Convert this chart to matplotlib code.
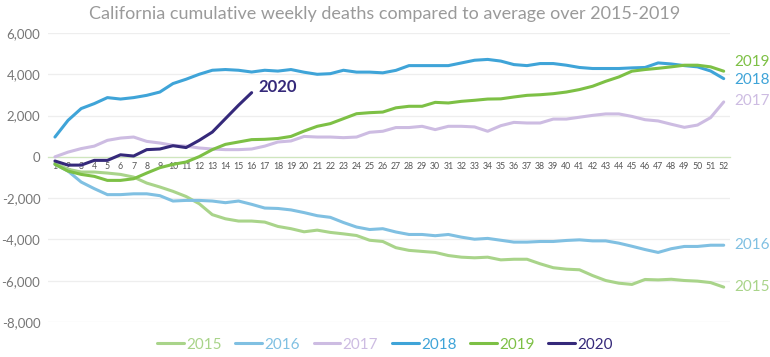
import matplotlib
matplotlib.use("Agg")
import matplotlib.pyplot as plt
import numpy as np

weeks = list(range(1, 53))

d2015 = [-300, -600, -735, -735, -785, -850, -980, -1270, -1460, -1670, -1920, -2270, -2800,
         -3000, -3110, -3110, -3160, -3370, -3480, -3630, -3550, -3660, -3730, -3810, -4040,
         -4100, -4400, -4530, -4580, -4630, -4780, -4860, -4890, -4860, -4990, -4960, -4960,
         -5180, -5370, -5440, -5470, -5750, -5990, -6120, -6180, -5940, -5960, -5930, -5990,
         -6020, -6090, -6310]
d2016 = [-360, -690, -1220, -1540, -1830, -1830, -1790, -1790, -1880, -2140, -2110, -2110,
         -2140, -2220, -2140, -2300, -2480, -2500, -2570, -2700, -2850, -2930, -3180, -3400,
         -3520, -3480, -3640, -3760, -3760, -3820, -3760, -3890, -3990, -3950, -4040, -4130,
         -4130, -4100, -4100, -4050, -4020, -4070, -4070, -4180, -4330, -4490, -4630, -4450,
         -4340, -4340, -4280, -4280]
d2017 = [0, 230, 400, 520, 800, 910, 960, 750, 670, 560, 520, 430, 380, 350, 350, 380, 520,
         720, 770, 990, 960, 960, 930, 960, 1190, 1240, 1420, 1420, 1480, 1320, 1480, 1480,
         1450, 1240, 1510, 1670, 1640, 1640, 1830, 1830, 1920, 2010, 2080, 2080, 1960, 1800,
         1740, 1580, 1430, 1540, 1900, 2660]
d2018 = [960, 1770, 2340, 2580, 2870, 2800, 2870, 2980, 3140, 3550, 3760, 4000, 4195, 4230,
         4195, 4110, 4195, 4155, 4230, 4100, 4000, 4030, 4195, 4105, 4105, 4070, 4190, 4420,
         4420, 4420, 4420, 4550, 4680, 4720, 4640, 4470, 4420, 4520, 4520, 4440, 4330, 4280,
         4280, 4280, 4310, 4330, 4550, 4500, 4420, 4360, 4160, 3790]
d2019 = [-360, -690, -850, -945, -1140, -1140, -1060, -785, -525, -365, -250, 10, 350, 605,
         720, 835, 850, 890, 990, 1250, 1480, 1610, 1850, 2090, 2140, 2170, 2375, 2450, 2450,
         2640, 2610, 2690, 2740, 2800, 2810, 2900, 2980, 3010, 3060, 3140, 3260, 3420, 3660,
         3870, 4150, 4230, 4290, 4360, 4440, 4440, 4360, 4150]
d2020 = [-200, -400, -400, -170, -170, 100, 40, 350, 380, 540, 450, 800, 1200, 1850, 2500, 3110]

series_names = ["2015", "2016", "2017", "2018", "2019", "2020"]
series_data = [d2015, d2016, d2017, d2018, d2019, d2020]
colors = ["#A9D48A", "#80C0E2", "#CDBCE2", "#3FA4D8", "#7DC045", "#35297A"]

y_ticks = [6000, 4000, 2000, 0, -2000, -4000, -6000, -8000]
title = "California cumulative weekly deaths compared to average over 2015-2019"

plt.rcParams['font.family'] = ['Lato', 'DejaVu Sans']

fig = plt.figure(figsize=(7.7, 3.57), dpi=100)
ax = fig.add_axes([48 / 770, 35 / 357, 682 / 770, 289 / 357])

for name, data, c in zip(series_names, series_data, colors):
    ax.plot(weeks[:len(data)], data, color=c, lw=2.2, label=name, solid_capstyle='round',
            solid_joinstyle='round', zorder=3 if name == "2020" else 2)

ax.set_xlim(0.47, 52.48)
ax.set_ylim(-8000, 6000)
ax.set_yticks(y_ticks)
ax.set_yticklabels([f"{v:,}" for v in y_ticks])
ax.grid(axis='y', color='#EEEEEE', lw=0.9, zorder=0)
ax.set_axisbelow(True)
ax.tick_params(axis='y', length=0, labelsize=9.5, labelcolor='#777777', pad=5.5)

ax.set_xticks(weeks)
ax.set_xticklabels([str(w) for w in weeks])
ax.tick_params(axis='x', length=0, labelsize=6.3, labelcolor='#555555', pad=4)
for s in ['top', 'right', 'left']:
    ax.spines[s].set_visible(False)
ax.spines['bottom'].set_position(('data', 0))
ax.spines['bottom'].set_color('#CFE6BE')
ax.spines['bottom'].set_linewidth(0.9)
ax.spines['bottom'].set_zorder(1)

# right-side labels
right_labels = {"2019": 4600, "2018": 3700, "2017": 2700, "2016": -4250, "2015": -6300}
for name, data, c in zip(series_names, series_data, colors):
    if name in right_labels:
        ax.annotate(name, xy=(52, right_labels[name]), xytext=(7.5, 0),
                    textcoords='offset points', color=c, fontsize=11,
                    va='center', ha='left', annotation_clip=False)
ax.annotate("2020", xy=(16, d2020[-1]), xytext=(5, 4), textcoords='offset points',
            color=colors[5], fontsize=12, fontweight='bold', va='center', ha='left')

fig.text(0.5, 0.962, title, ha='center', va='center', fontsize=13, color='#9A9A9A')

leg = fig.legend(loc='center', bbox_to_anchor=(0.5, 0.035), ncol=6, frameon=False,
                 fontsize=11, handlelength=1.75, handletextpad=0.15, columnspacing=0.9,
                 labelcolor='linecolor')

fig.savefig("out.png", dpi=100)
